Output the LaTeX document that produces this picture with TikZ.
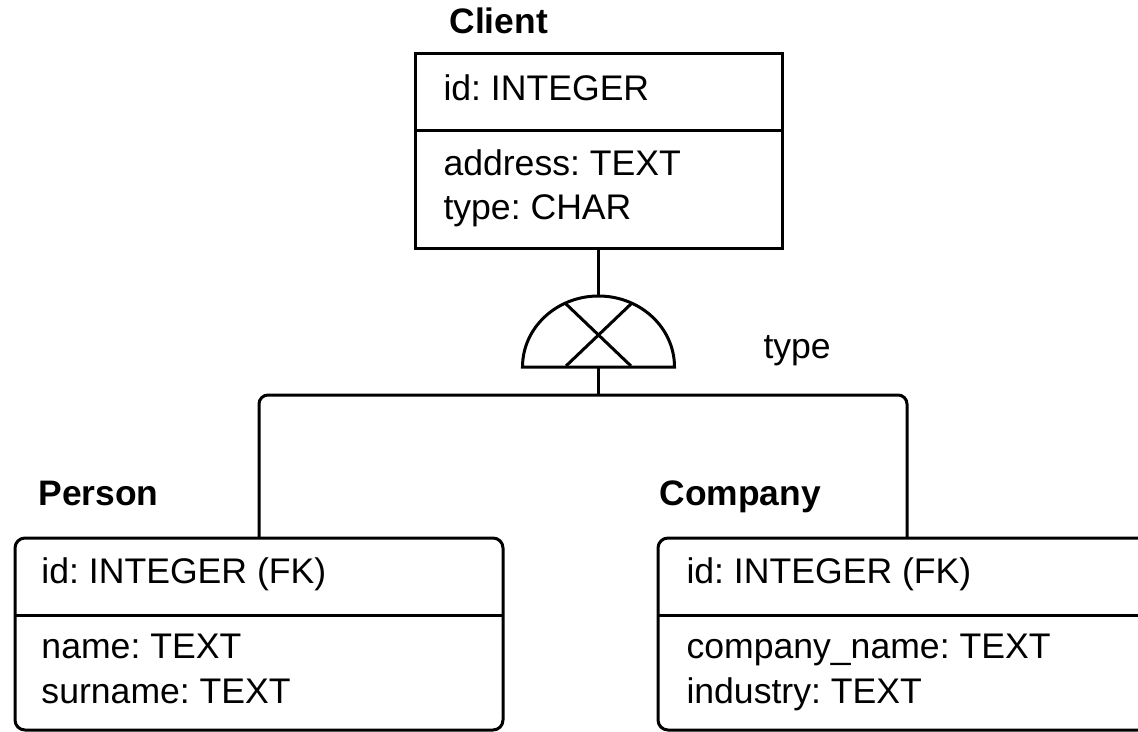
\documentclass[tikz,border=0pt]{standalone}
\usepackage{fontspec}
\setmainfont{Liberation Sans}
\frenchspacing
\begin{document}
\begin{tikzpicture}[x=1pt,y=-1pt,line width=3pt,
  txt/.style={anchor=base west,inner sep=0pt,font=\fontsize{35.6}{42}\selectfont\frenchspacing},
  lbl/.style={anchor=base west,inner sep=0pt,font=\fontsize{35.4}{42}\selectfont\bfseries},
  entbox/.style={draw,rectangle,anchor=north west,inner sep=0pt,outer sep=0pt},
  conn/.style={draw}]
\useasboundingbox (0,0) rectangle (1138,731);
\clip (0,0) rectangle (1138,731);
% Client
\node[entbox,minimum width=367pt,minimum height=195pt] (client) at (415,53) {};
\draw (client.west |- 0,130) -- (client.east |- 0,130);
\node[lbl] (clientlbl) at (448,33) {Client};
\node[txt] (cid) at (442,100) {id: INTEGER};
\node[txt] (caddr) at (442,175) {address: TEXT};
\node[txt] (ctype) at (442,219) {type: CHAR};
% Person
\node[entbox,rounded corners=10pt,minimum width=488pt,minimum height=192pt] (person) at (15,538) {};
\draw (person.west |- 0,615) -- (person.east |- 0,615);
\node[lbl] (personlbl) at (37,505) {Person};
\node[txt] (pid) at (40,583) {id: INTEGER (FK)};
\node[txt] (pname) at (40,658) {name: TEXT};
\node[txt] (psur) at (40,703) {surname: TEXT};
% Company
\node[entbox,rounded corners=10pt,minimum width=498pt,minimum height=192pt] (company) at (658,538) {};
\draw (company.west |- 0,615) -- (company.east |- 0,615);
\node[lbl] (companylbl) at (658,505) {Company};
\node[txt] (coid) at (685,583) {id: INTEGER (FK)};
\node[txt] (coname) at (685,658) {company\_name: TEXT};
\node[txt] (coind) at (685,703) {industry: TEXT};
% disjoint symbol
\coordinate (symtop) at (598.5,296);
\coordinate (symbase) at (598.5,367);
\coordinate (junc) at (598.5,395);
\draw (522.5,367) arc[start angle=180,end angle=0,x radius=76pt,y radius=71pt] -- cycle;
\draw (565,303) -- (631,366);
\draw (632,303) -- (566,366);
\node[txt] (typelbl) at (762,358) {type};
% connectors
\path[conn] (client.south) -- (symtop);
\path[conn] (symbase) -- (junc);
\path[conn,rounded corners=9pt] (person.north) -- (person.north |- junc) -- (company.north |- junc) -- (company.north);
\end{tikzpicture}
\end{document}
